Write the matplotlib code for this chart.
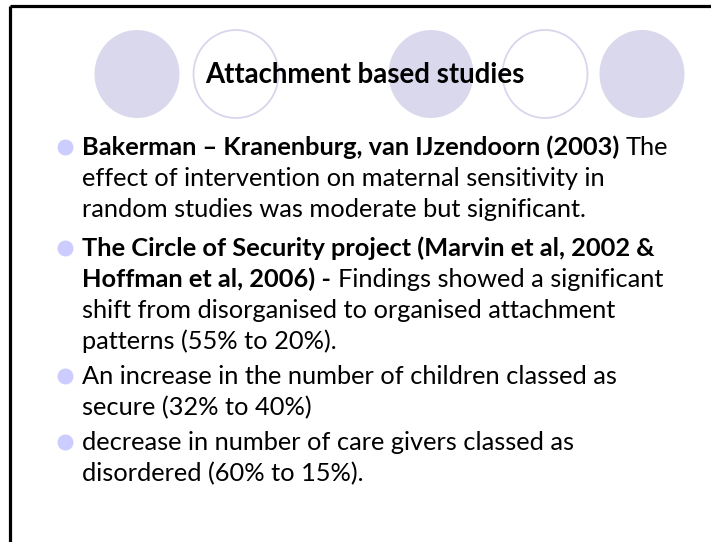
import matplotlib
matplotlib.use("Agg")
import matplotlib.pyplot as plt
from matplotlib.patches import Ellipse

# slide content
title = "Attachment based studies"

circle_x = [137, 236, 431, 545, 642]
circle_filled = [True, False, True, False, True]

paragraphs = [
    [[("Bakerman \u2013 Kranenburg, van IJzendoorn (2003)", True), ("The", False)],
     [("effect of intervention on maternal sensitivity in", False)],
     [("random studies was moderate but significant.", False)]],
    [[("The Circle of Security project (Marvin et al, 2002 &", True)],
     [("Hoffman et al, 2006) -", True), ("Findings showed a significant", False)],
     [("shift from disorganised to organised attachment", False)],
     [("patterns (55% to 20%).", False)]],
    [[("An increase in the number of children classed as", False)],
     [("secure (32% to 40%)", False)]],
    [[("decrease in number of care givers classed as", False)],
     [("disordered (60% to 15%).", False)]],
]
para_top = [155, 256, 384, 450]
line_gap = 31

W, H = 711, 542
fig = plt.figure(figsize=(W / 100, H / 100), dpi=100)
ax = fig.add_axes([0, 0, 1, 1])
ax.set_xlim(0, W)
ax.set_ylim(H, 0)
ax.axis("off")
font = "Lato"

# frame (only top and left edges fall inside the picture)
ax.plot([9.5, W + 5], [5.5, 5.5], color="black", lw=2.3, solid_capstyle="butt")
ax.plot([9.5, 9.5], [5.5, H + 5], color="black", lw=2.3, solid_capstyle="butt")

# decorative circles behind the title
for cx, filled in zip(circle_x, circle_filled):
    if filled:
        e = Ellipse((cx, 74), 85, 88, facecolor="#dad8ec", edgecolor="none")
    else:
        e = Ellipse((cx, 74), 85, 88, facecolor="none", edgecolor="#d8d6ec", lw=1.3)
    ax.add_patch(e)

renderer = fig.canvas.get_renderer()


def width_of(s, size, bold):
    t = ax.text(0, 0, s, fontsize=size, family=font,
                fontweight="bold" if bold else "normal")
    w = t.get_window_extent(renderer).width
    t.remove()
    return w


# size the fonts so the lines span what they do on the slide
title_size = 20 * 320 / width_of(title, 20, True)
first = paragraphs[0][0]
w1 = width_of(first[0][0], 16, True) + width_of("x x", 16, False) \
    - width_of("xx", 16, False) + width_of(first[1][0], 16, False)
body_size = 16 * 590 / w1
space = width_of("x x", body_size, False) - width_of("xx", body_size, False)

ax.text(205, 83, title, fontsize=title_size, family=font, fontweight="bold",
        va="baseline", ha="left", color="black")

for para, y0 in zip(paragraphs, para_top):
    ax.plot(65, y0 - 8, marker="o", markersize=11.5, color="#ccccff",
            markeredgewidth=0)
    for i, line in enumerate(para):
        y = y0 + i * line_gap
        x = 82
        for j, (s, bold) in enumerate(line):
            if j > 0:
                x += space
            t = ax.text(x, y, s, fontsize=body_size, family=font,
                        fontweight="bold" if bold else "normal",
                        va="baseline", ha="left", color="black")
            x += t.get_window_extent(renderer).width

fig.savefig("out.png", dpi=100)
